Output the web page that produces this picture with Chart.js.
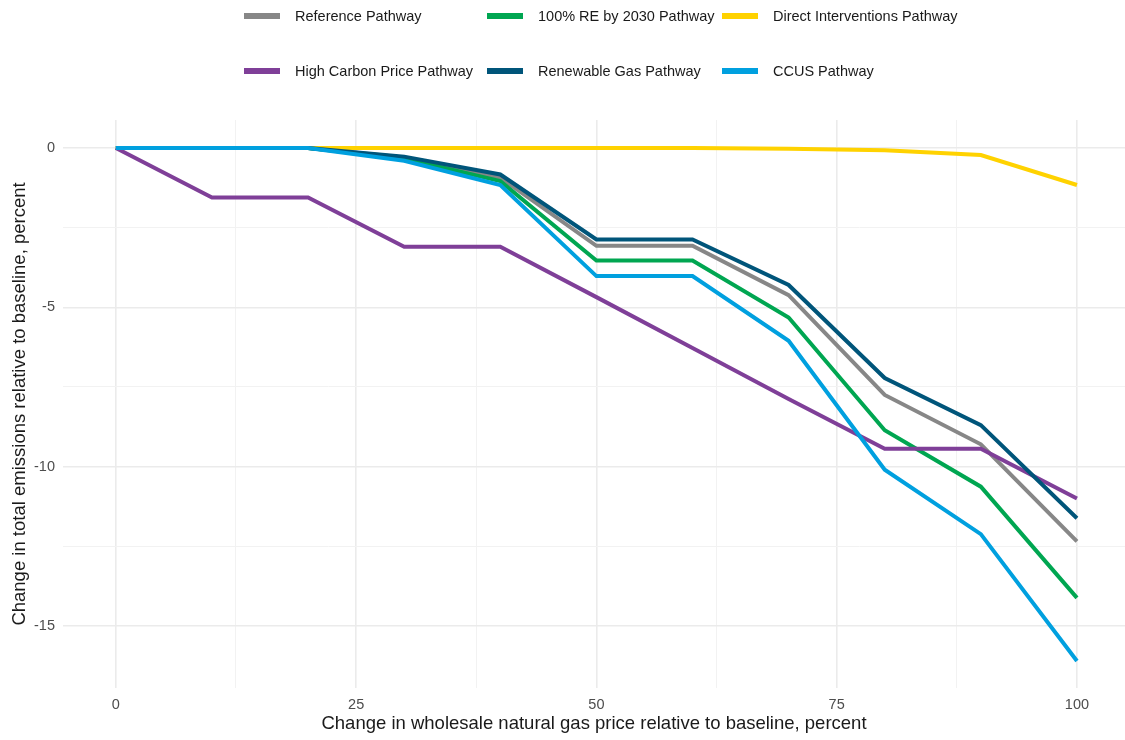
<!DOCTYPE html>
<html>
<head>
<meta charset="utf-8">
<script src="https://cdn.jsdelivr.net/npm/chart.js@4.4.1/dist/chart.umd.min.js"></script>
<style>
  body { margin: 0; background: #fff; }
  #wrap { position: relative; width: 1125px; height: 740px; }
  #legend { position: absolute; left: 0; top: 0; width: 1125px; height: 100px;
            font-family: "Liberation Sans", Arial, sans-serif; font-size: 14.5px; color: #1a1a1a; }
  .item { position: absolute; height: 20px; line-height: 20px; white-space: nowrap; }
  .swatch { position: absolute; left: 0; top: 7px; width: 36px; height: 6px; }
  .label { position: absolute; left: 51px; top: 0; }
</style>
</head>
<body>
<div id="wrap">
  <canvas id="emissionsChart" width="1125" height="740"></canvas>
  <div id="legend"></div>
</div>
<script>
// change in wholesale gas price (x) and change in emissions (y), percent
const priceChange = [0, 10, 20, 30, 40, 50, 60, 70, 80, 90, 100];

const referencePathway = [0, 0, 0, -0.3, -0.93, -3.07, -3.07, -4.62, -7.75, -9.3, -12.35];
const re2030Pathway = [0, 0, 0, -0.33, -1.04, -3.53, -3.53, -5.32, -8.86, -10.63, -14.12];
const directPathway = [0, 0, 0, 0, 0, 0, 0, -0.02, -0.07, -0.22, -1.16];
const carbonPricePathway = [0, -1.55, -1.55, -3.1, -3.1, -4.68, -6.28, -7.88, -9.44, -9.44, -11.0];
const renewableGasPathway = [0, 0, 0, -0.27, -0.83, -2.87, -2.87, -4.3, -7.22, -8.7, -11.62];
const ccusPathway = [0, 0, 0, -0.4, -1.16, -4.02, -4.02, -6.05, -10.1, -12.12, -16.1];

const seriesNames = ['Reference Pathway', '100% RE by 2030 Pathway', 'Direct Interventions Pathway',
                     'High Carbon Price Pathway', 'Renewable Gas Pathway', 'CCUS Pathway'];
const seriesValues = [referencePathway, re2030Pathway, directPathway,
                      carbonPricePathway, renewableGasPathway, ccusPathway];
const seriesColors = ['#878787', '#00a651', '#ffd200', '#7f3f98', '#00557a', '#00a0df'];

const yTitle = 'Change in total emissions relative to baseline, percent';
const xTitle = 'Change in wholesale natural gas price relative to baseline, percent';

// legend laid out like the ggplot one: 3 columns x 2 rows
const legendCols = [244, 487, 722];
const legendRows = [6, 61];
const legend = document.getElementById('legend');
seriesNames.forEach((name, i) => {
    const item = document.createElement('div');
    item.className = 'item';
    item.style.left = legendCols[i % 3] + 'px';
    item.style.top = legendRows[Math.floor(i / 3)] + 'px';
    item.innerHTML = '<span class="swatch" style="background:' + seriesColors[i] + '"></span>' +
                     '<span class="label">' + name + '</span>';
    legend.appendChild(item);
});

const datasets = seriesNames.map((name, i) => ({
    label: name,
    data: priceChange.map((x, j) => ({ x: x, y: seriesValues[i][j] })),
    borderColor: seriesColors[i],
    backgroundColor: seriesColors[i],
    borderWidth: 4,
    pointRadius: 0,
    fill: false,
    tension: 0,
    order: seriesNames.length - i
}));

const gridColor = ctx => ctx.tick && ctx.tick.label !== '' ? '#ebebeb' : '#f2f2f2';
const gridWidth = ctx => ctx.tick && ctx.tick.label !== '' ? 1.6 : 1;
const font = 'Liberation Sans, Arial, sans-serif';

new Chart(document.getElementById('emissionsChart').getContext('2d'), {
    type: 'line',
    data: { datasets: datasets },
    options: {
        responsive: false,
        animation: false,
        devicePixelRatio: 1,
        layout: { padding: { top: 120, right: 0, left: 0, bottom: 0 } },
        plugins: { legend: { display: false }, tooltip: { enabled: false } },
        scales: {
            x: {
                type: 'linear',
                min: -5.5,
                max: 105,
                afterFit: scale => { scale.height = 52; },
                border: { display: false },
                grid: { color: gridColor, lineWidth: gridWidth, drawTicks: false },
                ticks: {
                    stepSize: 12.5,
                    includeBounds: false,
                    autoSkip: false,
                    maxRotation: 0,
                    padding: 8,
                    color: '#4d4d4d',
                    font: { family: font, size: 14.5 },
                    callback: v => (v % 25 === 0 ? String(v) : '')
                },
                title: {
                    display: true,
                    text: xTitle,
                    color: '#1a1a1a',
                    font: { family: font, size: 18.5 },
                    padding: { top: 0, bottom: 5 }
                }
            },
            y: {
                type: 'linear',
                min: -16.95,
                max: 0.88,
                afterFit: scale => { scale.width = 63; },
                border: { display: false },
                grid: { color: gridColor, lineWidth: gridWidth, drawTicks: false },
                ticks: {
                    stepSize: 2.5,
                    includeBounds: false,
                    autoSkip: false,
                    padding: 8,
                    color: '#4d4d4d',
                    font: { family: font, size: 14.5 },
                    callback: v => (v % 5 === 0 ? String(v) : '')
                },
                title: {
                    display: true,
                    text: yTitle,
                    color: '#1a1a1a',
                    font: { family: font, size: 18.5 },
                    padding: { top: 9, bottom: 0 }
                }
            }
        }
    }
});
</script>
</body>
</html>
